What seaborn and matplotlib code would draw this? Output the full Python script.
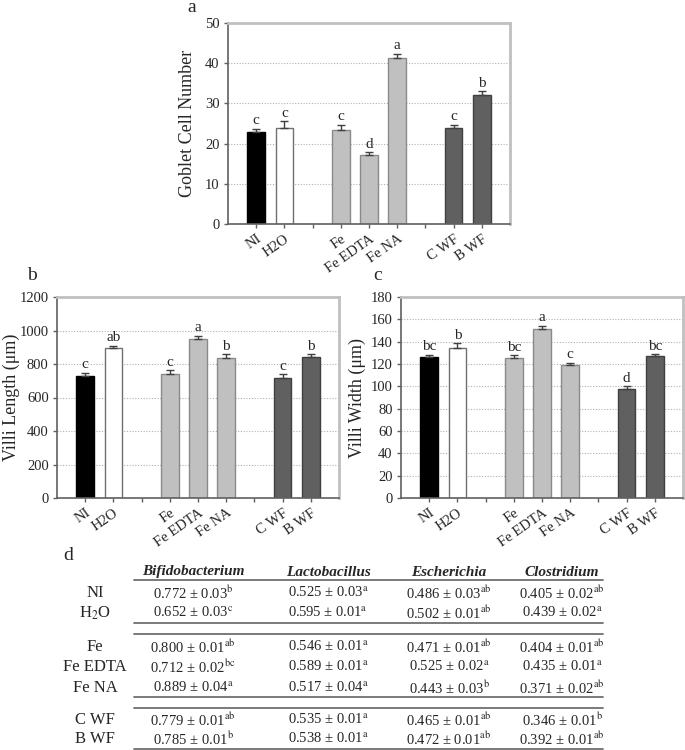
import matplotlib
matplotlib.use("Agg")
import pandas as pd
import matplotlib.pyplot as plt
import seaborn as sns
from matplotlib.lines import Line2D

# Bar chart data (a: goblet cells, b: villi length, c: villi width)
groups = ["NI", "H2O", "Fe", "Fe EDTA", "Fe NA", "C WF", "B WF"]
order = ["NI", "H2O", "", "Fe", "Fe EDTA", "Fe NA", " ", "C WF", "B WF"]

goblet = [22.8, 23.9, 23.4, 17.2, 41.4, 23.8, 32.0]
goblet_err = [0.9, 1.6, 1.3, 0.6, 1.0, 0.9, 1.0]
goblet_sig = ["c", "c", "c", "d", "a", "c", "b"]

length = [730, 895, 740, 952, 835, 718, 843]
length_err = [18, 14, 22, 18, 24, 20, 16]
length_sig = ["c", "ab", "c", "a", "b", "c", "b"]

width = [126.5, 134.0, 125.6, 151.1, 118.7, 97.9, 127.0]
width_err = [2.0, 4.4, 2.4, 3.3, 2.3, 2.1, 1.8]
width_sig = ["bc", "b", "bc", "a", "c", "d", "bc"]

# Table data (d)
row_labels = ["NI", "H$_2$O", "Fe", "Fe EDTA", "Fe NA", "C WF", "B WF"]
genera = ["Bifidobacterium", "Lactobacillus", "Escherichia", "Clostridium"]
bifido_mean = [0.772, 0.652, 0.800, 0.712, 0.889, 0.779, 0.785]
bifido_sd = [0.03, 0.03, 0.01, 0.02, 0.04, 0.01, 0.01]
bifido_sig = ["b", "c", "ab", "bc", "a", "ab", "b"]
lacto_mean = [0.525, 0.595, 0.546, 0.589, 0.517, 0.535, 0.538]
lacto_sd = [0.03, 0.01, 0.01, 0.01, 0.04, 0.01, 0.01]
lacto_sig = ["a", "a", "a", "a", "a", "a", "a"]
escher_mean = [0.486, 0.502, 0.471, 0.525, 0.443, 0.465, 0.472]
escher_sd = [0.03, 0.01, 0.01, 0.02, 0.03, 0.01, 0.01]
escher_sig = ["ab", "ab", "ab", "a", "b", "ab", "ab"]
clost_mean = [0.405, 0.439, 0.404, 0.435, 0.371, 0.346, 0.392]
clost_sd = [0.02, 0.02, 0.01, 0.01, 0.02, 0.01, 0.01]
clost_sig = ["ab", "a", "ab", "a", "ab", "b", "ab"]

sns.set_theme(style="white")
plt.rcParams["font.family"] = ["Liberation Serif", "DejaVu Serif"]
plt.rcParams["mathtext.fontset"] = "stix"

palette = {"NI": "#000000", "H2O": "#ffffff", "Fe": "#c0c0c0", "Fe EDTA": "#c0c0c0",
           "Fe NA": "#c0c0c0", "C WF": "#606060", "B WF": "#606060"}
edges = {"NI": "#000000", "H2O": "#707070", "Fe": "#8a8a8a", "Fe EDTA": "#8a8a8a",
         "Fe NA": "#8a8a8a", "C WF": "#404040", "B WF": "#404040"}

df = pd.DataFrame({"group": groups, "goblet": goblet, "length": length, "width": width})

W, H = 685, 750
fig = plt.figure(figsize=(W / 100, H / 100), dpi=100)


def box(l, t, r, b):
    return [l / W, 1 - b / H, (r - l) / W, (b - t) / H]


def bar_panel(rect, col, err, sig, ymax, step, ylabel, label_x):
    ax = fig.add_axes(rect)
    sns.barplot(data=df, x="group", y=col, hue="group", order=order, hue_order=groups,
                palette=palette, dodge=False, width=0.62, saturation=1, errorbar=None,
                legend=False, linewidth=1, ax=ax)
    for cont, g in zip(ax.containers, groups):
        for p in cont:
            p.set_edgecolor(edges[g])
    xs = [order.index(g) for g in groups]
    vals = df[col].tolist()
    ax.errorbar(xs, vals, yerr=[[0] * len(err), err], fmt="none", ecolor="#404040",
                elinewidth=1, capsize=3, capthick=1, zorder=3)
    for x, v, e, s in zip(xs, vals, err, sig):
        ax.annotate(s, (x, v + e), xytext=(0, 1), textcoords="offset points",
                    ha="center", va="bottom", fontsize=11)
    ax.set_xlim(-1, 9)
    ax.set_ylim(0, ymax)
    ax.set_yticks(range(0, ymax + 1, step))
    ax.yaxis.grid(True, linestyle=(0, (1, 1.5)), color="#b0b0b0", linewidth=0.8)
    ax.set_axisbelow(True)
    ax.set_xlabel("")
    ax.set_ylabel(ylabel, fontsize=13)
    ax.yaxis.set_label_coords(label_x, 0.5)
    ax.set_xticks(range(len(order)))
    ax.set_xticklabels(order, rotation=35, ha="right", rotation_mode="anchor", fontsize=10.5)
    ax.tick_params(axis="both", direction="out", length=3, width=1, color="#606060",
                   bottom=True, left=True, pad=3)
    ax.tick_params(axis="y", labelsize=10.5)
    for side in ["left", "bottom"]:
        ax.spines[side].set_color("#606060")
        ax.spines[side].set_linewidth(1.2)
    for side in ["top", "right"]:
        ax.spines[side].set_color("#c0c0c0")
        ax.spines[side].set_linewidth(2)
    return ax


bar_panel(box(228, 23, 510, 224), "goblet", goblet_err, goblet_sig, 50, 10,
          "Goblet Cell Number", -0.113)
bar_panel(box(57, 297, 339, 498), "length", length_err, length_sig, 1200, 200,
          "Villi Length (μm)", -0.131)
bar_panel(box(401, 297, 683, 498), "width", width_err, width_sig, 180, 20,
          "Villi Width (μm)", -0.124)

fig.text(192 / W, 1 - 8 / H, "a", fontsize=14, ha="center", va="center")
fig.text(32 / W, 1 - 275 / H, "b", fontsize=14, ha="center", va="center")
fig.text(378 / W, 1 - 275 / H, "c", fontsize=14, ha="center", va="center")

# Table d drawn on an invisible pixel-space axes
tb = fig.add_axes([0, 0, 1, 1])
tb.set_xlim(0, W)
tb.set_ylim(H, 0)
tb.axis("off")
tb.patch.set_alpha(0)

tb.text(68, 555, "d", fontsize=14, ha="center", va="center")
col_x = [193, 328, 449, 562]
for x, g in zip(col_x, genera):
    tb.text(x, 572, g, fontsize=11, fontweight="bold", fontstyle="italic", ha="center", va="center")

row_y = [593, 613, 647, 667, 688, 720, 739]
columns = [(bifido_mean, bifido_sd, bifido_sig), (lacto_mean, lacto_sd, lacto_sig),
           (escher_mean, escher_sd, escher_sig), (clost_mean, clost_sd, clost_sig)]
for y, lab in zip(row_y, row_labels):
    tb.text(95, y, lab, fontsize=12, ha="center", va="center")
for x, (means, sds, sigs) in zip(col_x, columns):
    for y, m, s, g in zip(row_y, means, sds, sigs):
        tb.text(x, y, f"{m:.3f} ± {s:.2f}" + r"$^{\mathrm{" + g + "}}$",
                fontsize=10.5, ha="center", va="center")

for y in [580, 623, 634, 697, 708, 749]:
    tb.add_line(Line2D([134, 603], [y, y], color="#707070", linewidth=1.3))

fig.savefig("out.png", dpi=100)
